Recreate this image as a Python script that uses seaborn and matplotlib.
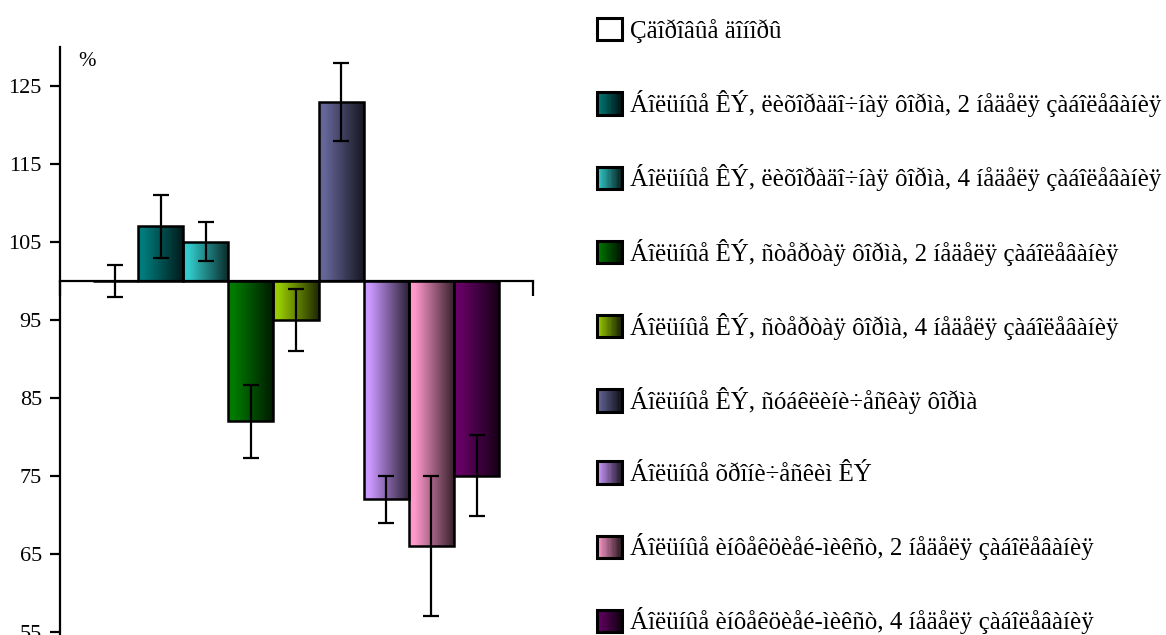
import numpy as np
import pandas as pd
import matplotlib
matplotlib.use("Agg")
import matplotlib.pyplot as plt
import seaborn as sns
from matplotlib.legend_handler import HandlerBase
from matplotlib.patches import Rectangle
from matplotlib.colors import to_rgb

# ---- data ----
labels = [
    "Çäîðîâûå äîíîðû",
    "Áîëüíûå ÊÝ, ëèõîðàäî÷íàÿ ôîðìà, 2 íåäåëÿ çàáîëåâàíèÿ",
    "Áîëüíûå ÊÝ, ëèõîðàäî÷íàÿ ôîðìà, 4 íåäåëÿ çàáîëåâàíèÿ",
    "Áîëüíûå ÊÝ, ñòåðòàÿ ôîðìà, 2 íåäåëÿ çàáîëåâàíèÿ",
    "Áîëüíûå ÊÝ, ñòåðòàÿ ôîðìà, 4 íåäåëÿ çàáîëåâàíèÿ",
    "Áîëüíûå ÊÝ, ñóáêëèíè÷åñêàÿ ôîðìà",
    "Áîëüíûå õðîíè÷åñêèì ÊÝ",
    "Áîëüíûå èíôåêöèåé-ìèêñò, 2 íåäåëÿ çàáîëåâàíèÿ",
    "Áîëüíûå èíôåêöèåé-ìèêñò, 4 íåäåëÿ çàáîëåâàíèÿ",
]
values = [100, 107, 105, 82, 95, 123, 72, 66, 75]
errors = [2, 4, 2.5, 4.7, 4, 5, 3, 9, 5.2]
colors = ["#ffffff", "#007b7b", "#33cccc", "#007a00", "#99cc00",
          "#666699", "#cc99ff", "#ff99cc", "#660066"]
yticks = [55, 65, 75, 85, 95, 105, 115, 125]
baseline = 100

sns.set_theme(style="white")
plt.rcParams["font.family"] = ["Liberation Serif", "DejaVu Serif"]

fig = plt.figure(figsize=(11.66, 6.35), dpi=100)
ax = fig.add_axes([60 / 1166, 0.0, (533 - 60) / 1166, 1 - 47 / 635])

df = pd.DataFrame({"group": labels, "value": values, "err": errors})
df["delta"] = df["value"] - baseline

sns.barplot(data=df, x="group", y="delta", hue="group", order=labels,
            hue_order=labels, palette=colors, width=1.0, dodge=False,
            bottom=baseline, edgecolor="black", linewidth=1.8,
            legend=False, ax=ax, zorder=2)

xlim = (-0.5 - 33 / 45.4, 8.5 + 34 / 45.4)
ylim = (54.6, 130)


def gradient_rgba(color, n=256, dark=0.2, start=0.12):
    base = np.array(to_rgb(color))
    t = np.linspace(0, 1, n)
    t = np.clip((t - start) / (1 - start), 0, 1)
    f = 1 - (1 - dark) * t
    rgb = base[None, :] * f[:, None]
    return rgb


# gradient fills clipped to each bar
for patch, col in zip(ax.patches, colors):
    x0, y0 = patch.get_x(), patch.get_y()
    w, h = patch.get_width(), patch.get_height()
    if abs(h) < 1e-9:
        continue
    ya, yb = min(y0, y0 + h), max(y0, y0 + h)
    img = gradient_rgba(col)[None, :, :]
    im = ax.imshow(img, extent=[x0, x0 + w, ya, yb], aspect="auto",
                   zorder=1.9, interpolation="bilinear")
    im.set_clip_path(patch)
    patch.set_facecolor("none")

# error bars
ax.errorbar(x=np.arange(len(values)), y=values, yerr=errors, fmt="none",
            ecolor="black", elinewidth=1.6, capsize=5.5, capthick=1.6,
            zorder=3)

ax.set_xlim(*xlim)
ax.set_ylim(*ylim)
ax.set_xlabel("")
ax.set_ylabel("")

for s in ["top", "right"]:
    ax.spines[s].set_visible(False)
ax.spines["left"].set_linewidth(1.6)
ax.spines["left"].set_color("black")
ax.spines["bottom"].set_position(("data", baseline))
ax.spines["bottom"].set_linewidth(1.6)
ax.spines["bottom"].set_color("black")

ax.set_xticks([xlim[0], xlim[1]])
ax.tick_params(axis="x", direction="out", length=11, width=1.6,
               labelbottom=False, color="black", bottom=True)
ax.set_yticks(yticks)
ax.set_yticklabels([str(v) for v in yticks])
ax.tick_params(axis="y", direction="out", length=7, width=1.6, pad=6,
               labelsize=16, color="black", left=True, labelcolor="black")

fig.text(87 / 1166, 1 - 62 / 635, "%", fontsize=15, ha="center",
         va="center", color="black")


class GradientHandler(HandlerBase):
    def __init__(self, color):
        super().__init__()
        self.color = color

    def create_artists(self, legend, orig_handle, xdescent, ydescent,
                       width, height, fontsize, trans):
        artists = []
        n = 20
        if self.color.lower() != "#ffffff":
            rgb = gradient_rgba(self.color, n=n, dark=0.15, start=0.0)
            for i in range(n):
                r = Rectangle((-xdescent + width * i / n, -ydescent),
                              width / n + 0.2, height, facecolor=rgb[i],
                              edgecolor="none", transform=trans)
                artists.append(r)
        border = Rectangle((-xdescent, -ydescent), width, height,
                           facecolor="none", edgecolor="black",
                           linewidth=2.2, transform=trans)
        artists.append(border)
        return artists


handles = [Rectangle((0, 0), 1, 1) for _ in labels]
handler_map = {h: GradientHandler(c) for h, c in zip(handles, colors)}
leg = fig.legend(handles, labels, handler_map=handler_map,
                 loc="upper left", bbox_to_anchor=(597 / 1166, 1 - 18 / 635),
                 frameon=False, fontsize=18, handlelength=1.0,
                 handleheight=1.0, handletextpad=0.3, labelspacing=1.89,
                 borderaxespad=0, borderpad=0)
for t in leg.get_texts():
    t.set_color("black")

fig.savefig("out.png", dpi=100, facecolor="white")
